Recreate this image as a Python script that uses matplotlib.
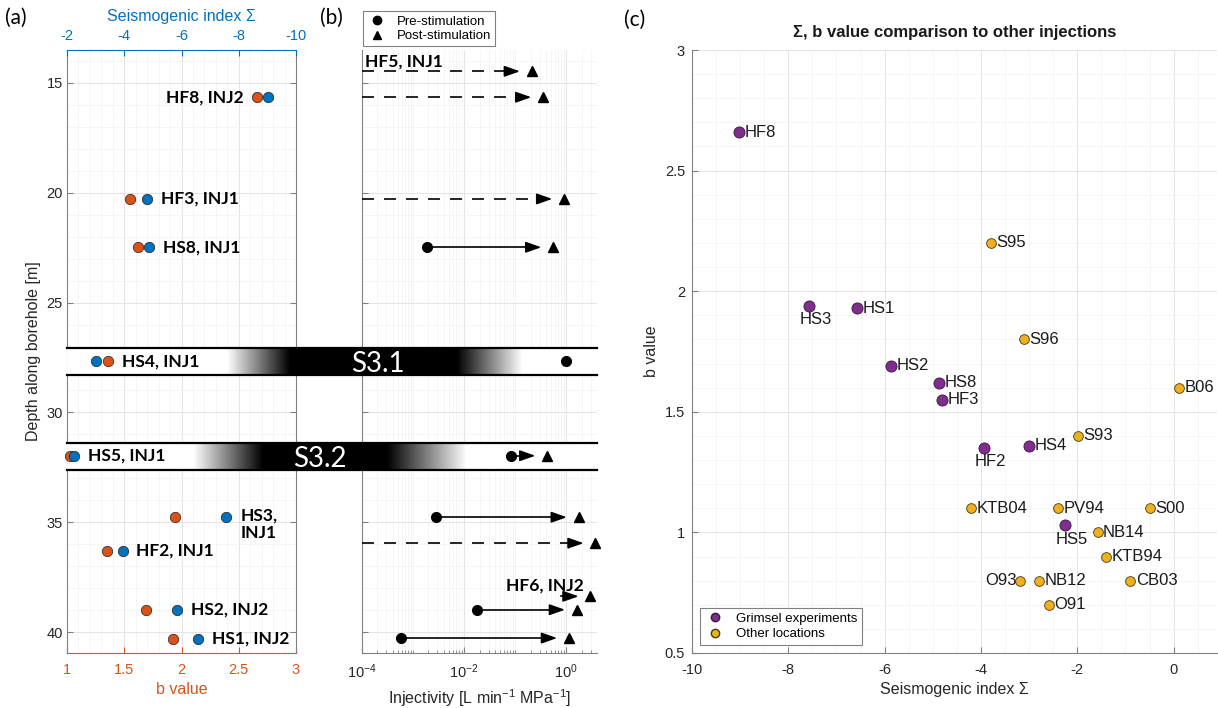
import numpy as np
import matplotlib
matplotlib.use("Agg")
import matplotlib.pyplot as plt
from matplotlib.lines import Line2D
from matplotlib.ticker import (MultipleLocator, FixedLocator, LogLocator,
                               NullFormatter, FuncFormatter)
from matplotlib.transforms import blended_transform_factory

nan = np.nan

# Data

# Grimsel stimulations (panels a and c)
grimsel_names = ["HF8", "HF3", "HS8", "HS4", "HS5", "HS3", "HF2", "HS2", "HS1"]
grimsel_inj = ["INJ2", "INJ1", "INJ1", "INJ1", "INJ1", "INJ1", "INJ1", "INJ2", "INJ2"]
grimsel_depth = [15.65, 20.28, 22.48, 27.68, 31.97, 34.77, 36.29, 38.98, 40.30]
grimsel_b = [2.66, 1.55, 1.62, 1.36, 1.03, 1.94, 1.35, 1.69, 1.93]
grimsel_sigma = [-9.02, -4.81, -4.88, -3.00, -2.26, -7.57, -3.94, -5.86, -6.57]

# other injection sites (panel c)
other_names = ["S95", "S96", "B06", "S93", "KTB04", "PV94", "S00",
               "NB14", "KTB94", "O93", "NB12", "CB03", "O91"]
other_sigma = [-3.80, -3.11, 0.11, -1.99, -4.21, -2.40, -0.50,
               -1.58, -1.40, -3.20, -2.80, -0.90, -2.59]
other_b = [2.20, 1.80, 1.60, 1.40, 1.10, 1.10, 1.10,
           1.00, 0.90, 0.80, 0.80, 0.80, 0.70]

# injectivity before / after stimulation (panel b), L/min/MPa
inj_depth = [14.47, 15.65, 20.28, 22.48, 27.68, 31.97, 34.77, 35.95, 38.37, 38.98, 40.27]
inj_pre = [nan, nan, nan, 0.0019, 1.0, 0.081, 0.0028, nan, nan, 0.0175, 0.00058]
inj_post = [0.21, 0.35, 0.90, 0.55, nan, 0.42, 1.74, 3.7, 2.95, 1.60, 1.12]
inj_from = [1e-4, 1e-4, 1e-4, 0.0019, nan, 0.081, 0.0028, 1e-4, 0.8, 0.0175, 0.00058]
inj_dashed = [True, True, True, False, False, False, False, True, False, False, False]
inj_label = ["HF5, INJ1", "", "", "", "", "", "", "", "HF6, INJ2", "", ""]

# shear zones crossing the borehole
zone_names = ["S3.1", "S3.2"]
zone_top = [27.05, 31.37]
zone_bottom = [28.28, 32.60]

# Style / layout

W, H = 1218, 708
BLUE = "#0072BD"
ORANGE = "#D95319"
PURPLE = "#7E2F8E"
YELLOW = "#EDB120"
TXT = "#262626"
SPINE = "#808080"
GRID = "#e4e4e4"
GRID_MINOR = "#f1f1f1"
BOLD_FONT = ["Lato", "DejaVu Sans"]

# gradient stops of the zone bands, as fraction of band length
BAND_RAMPS = {"S3.1": (0.302, 0.421, 0.736, 0.860),
              "S3.2": (0.238, 0.370, 0.604, 0.755)}
BAND_TEXT_X = {"S3.1": 0.587, "S3.2": 0.477}

A_LABEL_LEFT = {"HF8"}
A_LABEL_WRAP = {"HS3"}
C_LABEL_BELOW = {"HS3", "HF2", "HS5"}
C_LABEL_LEFT = {"O93"}

plt.rcParams["font.family"] = ["Liberation Sans", "DejaVu Sans"]
plt.rcParams["axes.unicode_minus"] = False
plt.rcParams["mathtext.fontset"] = "custom"
plt.rcParams["mathtext.rm"] = "Liberation Sans"
plt.rcParams["mathtext.it"] = "Liberation Sans:italic"
plt.rcParams["mathtext.bf"] = "Liberation Sans:bold"
plt.rcParams["xtick.direction"] = "in"
plt.rcParams["ytick.direction"] = "in"


def px_rect(left, top, right, bottom):
    return [left / W, 1 - bottom / H, (right - left) / W, (bottom - top) / H]


fmt_g = FuncFormatter(lambda v, _: f"{v:g}")


def base_ticks(ax):
    ax.tick_params(which="major", colors=SPINE, labelcolor=TXT, labelsize=10.5,
                   length=4, width=0.8)
    ax.tick_params(which="minor", length=0)


RECT_A = px_rect(67, 50, 296, 653)
RECT_B = px_rect(362, 50, 597, 653)
RECT_C = px_rect(692, 50, 1217, 653)
DEPTH_LIM = (40.95, 13.5)
INJ_LIM = (1e-4, 10 ** 0.6)
ARROW_GAP = 1.7

fig = plt.figure(figsize=(W / 100, H / 100), dpi=100)

# (b) grid + left spine on their own axes, so the shear-zone bands can cover them
ax_bg = fig.add_axes(RECT_B, zorder=0)
ax_bg.set_xscale("log")
ax_bg.set_xlim(*INJ_LIM)
ax_bg.set_ylim(*DEPTH_LIM)
ax_bg.xaxis.set_major_locator(FixedLocator([1e-4, 1e-2, 1]))
ax_bg.xaxis.set_minor_locator(LogLocator(base=10, subs=np.arange(1, 10), numticks=30))
ax_bg.yaxis.set_major_locator(MultipleLocator(5))
ax_bg.yaxis.set_minor_locator(MultipleLocator(1))
ax_bg.grid(which="major", color=GRID, lw=0.7)
ax_bg.grid(which="minor", color=GRID_MINOR, lw=0.5)
ax_bg.tick_params(which="both", length=0, labelbottom=False, labelleft=False)
for side, s in ax_bg.spines.items():
    s.set_visible(side == "left")
    s.set_color(SPINE)

# Panel (a): depth vs b value / seismogenic index

ax_a = fig.add_axes(RECT_A, zorder=1)
ax_a.set_xlim(1, 3)
ax_a.set_ylim(*DEPTH_LIM)
ax_a.set_axisbelow(True)
ax_a.xaxis.set_major_locator(MultipleLocator(0.5))
ax_a.xaxis.set_minor_locator(MultipleLocator(0.1))
ax_a.yaxis.set_major_locator(MultipleLocator(5))
ax_a.yaxis.set_minor_locator(MultipleLocator(1))
ax_a.xaxis.set_major_formatter(fmt_g)
ax_a.grid(which="major", color=GRID, lw=0.7)
ax_a.grid(which="minor", color=GRID_MINOR, lw=0.5)
base_ticks(ax_a)
ax_a.tick_params(axis="y", right=True, pad=3)
ax_a.tick_params(axis="x", which="major", colors=ORANGE, labelcolor=ORANGE, pad=7)
ax_a.spines["bottom"].set_color(ORANGE)
ax_a.spines["top"].set_visible(False)
for side in ("left", "right"):
    ax_a.spines[side].set_color(SPINE)
ax_a.set_xlabel("b value", color=ORANGE, fontsize=11.5)
ax_a.set_ylabel("Depth along borehole [m]", color=TXT, fontsize=11.5)

# shear-zone bands run across panels (a) and (b)
band_tf = blended_transform_factory(fig.transFigure, ax_a.transData)
x0f = RECT_A[0]
x1f = RECT_B[0] + RECT_B[2]
t = np.linspace(0, 1, 800)
for name, top, bot in zip(zone_names, zone_top, zone_bottom):
    a, b, c, d = BAND_RAMPS[name]
    dark = np.clip(np.minimum((t - a) / (b - a), (d - t) / (d - c)), 0, 1)
    gray = 1 - dark
    ax_a.imshow(np.vstack([gray, gray]), cmap="gray", vmin=0, vmax=1, aspect="auto",
                extent=(x0f, x1f, bot, top), transform=band_tf, clip_on=False,
                interpolation="bilinear", zorder=2.6)
    for yy in (top, bot):
        ax_a.plot([x0f, x1f], [yy, yy], color="black", lw=1.6, transform=band_tf,
                  clip_on=False, zorder=2.7)
    ax_a.text(x0f + BAND_TEXT_X[name] * (x1f - x0f), (top + bot) / 2, name,
              transform=band_tf, color="white", fontsize=20, family=BOLD_FONT,
              ha="center", va="center_baseline", clip_on=False, zorder=2.8)
ax_a.set_xlim(1, 3)
ax_a.set_ylim(*DEPTH_LIM)

ax_a.plot(grimsel_b, grimsel_depth, "o", color=ORANGE, mec="#202020", mew=0.5,
          ms=7.5, zorder=4, clip_on=False)

ax_sig = ax_a.twiny()
ax_sig.set_zorder(2)
ax_sig.set_xlim(-2, -10)
ax_sig.xaxis.set_major_locator(FixedLocator([-2, -4, -6, -8, -10]))
ax_sig.xaxis.set_major_formatter(fmt_g)
ax_sig.tick_params(axis="x", colors=BLUE, labelcolor=BLUE, labelsize=10.5,
                   length=4, width=0.8, pad=5)
for side in ("left", "right", "bottom"):
    ax_sig.spines[side].set_visible(False)
ax_sig.spines["top"].set_color(BLUE)
ax_sig.set_xlabel("Seismogenic index \u03a3", color=BLUE, fontsize=11.5, labelpad=6)
ax_sig.plot(grimsel_sigma, grimsel_depth, "o", color=BLUE, mec="#202020", mew=0.5,
            ms=7.5, zorder=4, clip_on=False)

for name, inj, dep, bv, sg in zip(grimsel_names, grimsel_inj, grimsel_depth,
                                  grimsel_b, grimsel_sigma):
    b_sig = 1 + (-2 - sg) / 4  # sigma position on the b-value scale
    text = f"{name},\n{inj}" if name in A_LABEL_WRAP else f"{name}, {inj}"
    if name in A_LABEL_LEFT:
        xy, off, ha = (min(bv, b_sig), dep), (-10, 0), "right"
    else:
        xy, off, ha = (max(bv, b_sig), dep), (10, -5 if name in A_LABEL_WRAP else 0), "left"
    ax_a.annotate(text, xy=xy, xytext=off, textcoords="offset points", ha=ha,
                  va="center", fontsize=12.5, fontweight="bold", family=BOLD_FONT,
                  color="black", linespacing=1.15, zorder=5, annotation_clip=False)

# Panel (b): injectivity

ax_b = fig.add_axes(RECT_B, zorder=3)
ax_b.set_facecolor("none")
ax_b.set_xscale("log")
ax_b.set_xlim(*INJ_LIM)
ax_b.set_ylim(*DEPTH_LIM)
ax_b.xaxis.set_major_locator(FixedLocator([1e-4, 1e-2, 1]))
ax_b.xaxis.set_minor_locator(LogLocator(base=10, subs=np.arange(1, 10), numticks=30))
ax_b.xaxis.set_minor_formatter(NullFormatter())
ax_b.yaxis.set_major_locator(MultipleLocator(5))
base_ticks(ax_b)
ax_b.tick_params(axis="x", which="minor", length=2, width=0.6, colors=SPINE)
ax_b.tick_params(axis="x", pad=7)
ax_b.tick_params(axis="y", labelleft=False)
for side in ("top", "right", "left"):
    ax_b.spines[side].set_visible(False)
ax_b.spines["bottom"].set_color(SPINE)
ax_b.set_xlabel("Injectivity [L min$^{-1}$ MPa$^{-1}$]", color=TXT, fontsize=11.5)

head = "-|>,head_length=0.85,head_width=0.3"
for dep, pre, post, start, dashed, lab in zip(inj_depth, inj_pre, inj_post,
                                              inj_from, inj_dashed, inj_label):
    if not np.isnan(post):
        tip = post / ARROW_GAP
        ls = (0, (7.2, 6)) if dashed else "-"
        ax_b.plot([start, tip / 1.25], [dep, dep], color="black", lw=1.2, ls=ls, zorder=3)
        ax_b.annotate("", xy=(tip, dep), xytext=(tip / 1.3, dep),
                      arrowprops=dict(arrowstyle=head, color="black", lw=1.2,
                                      shrinkA=0, shrinkB=0, mutation_scale=11),
                      zorder=3)
        ax_b.plot(post, dep, "^", color="black", ms=7.5, zorder=4, clip_on=False)
    if not np.isnan(pre):
        ax_b.plot(pre, dep, "o", color="black", ms=7, zorder=4, clip_on=False)
    if lab and dashed:
        ax_b.annotate(lab, xy=(INJ_LIM[0], dep), xytext=(2, 7), textcoords="offset points",
                      ha="left", va="center", fontsize=12.5, fontweight="bold",
                      family=BOLD_FONT, zorder=5)
    elif lab:
        ax_b.annotate(lab, xy=(post, dep), xytext=(-5, 8), textcoords="offset points",
                      ha="right", va="center", fontsize=12.5, fontweight="bold",
                      family=BOLD_FONT, zorder=5)

leg_handles = [
    Line2D([], [], ls="none", marker="o", color="black", ms=6, label="Pre-stimulation"),
    Line2D([], [], ls="none", marker="^", color="black", ms=6, label="Post-stimulation"),
]
leg_b = ax_b.legend(handles=leg_handles, loc="lower left", bbox_to_anchor=(0.003, 1.006),
                    borderaxespad=0, fontsize=9.5, fancybox=False, edgecolor=SPINE,
                    framealpha=1, handlelength=1.6, handletextpad=0.7, borderpad=0.3,
                    labelspacing=0.2)
leg_b.get_frame().set_linewidth(0.8)

# Panel (c): sigma vs b value compared with other sites

ax_c = fig.add_axes(RECT_C, zorder=0)
ax_c.set_xlim(-10, 0.9)
ax_c.set_ylim(0.5, 3)
ax_c.set_axisbelow(True)
ax_c.xaxis.set_major_locator(FixedLocator([-10, -8, -6, -4, -2, 0]))
ax_c.xaxis.set_minor_locator(MultipleLocator(0.5))
ax_c.yaxis.set_major_locator(MultipleLocator(0.5))
ax_c.yaxis.set_minor_locator(MultipleLocator(0.1))
ax_c.xaxis.set_major_formatter(fmt_g)
ax_c.yaxis.set_major_formatter(fmt_g)
ax_c.grid(which="major", color=GRID, lw=0.7)
ax_c.grid(which="minor", color=GRID_MINOR, lw=0.5)
base_ticks(ax_c)
ax_c.tick_params(axis="x", pad=7)
ax_c.tick_params(axis="y", pad=5)
for side in ("top", "right"):
    ax_c.spines[side].set_visible(False)
for side in ("left", "bottom"):
    ax_c.spines[side].set_color(SPINE)

ax_c.plot(other_sigma, other_b, "o", color=YELLOW, mec="#4a3a10", mew=0.6, ms=7,
          zorder=3)
ax_c.plot(grimsel_sigma, grimsel_b, "o", color=PURPLE, mec="#3a1540", mew=0.6, ms=8,
          zorder=3)

for names, xs, ys in ((grimsel_names, grimsel_sigma, grimsel_b),
                      (other_names, other_sigma, other_b)):
    for name, x, y in zip(names, xs, ys):
        if name in C_LABEL_BELOW:
            off, ha = (5, -10), "center"
        elif name in C_LABEL_LEFT:
            off, ha = (-2, 0), "right"
        else:
            off, ha = (4, 0), "left"
        ax_c.annotate(name, xy=(x, y), xytext=off, textcoords="offset points", ha=ha,
                      va="center", fontsize=12, color="#1a1a1a", zorder=4)

ax_c.set_title("\u03a3, b value comparison to other injections", fontsize=12,
               fontweight="bold", color="#1a1a1a", pad=9)
ax_c.set_xlabel("Seismogenic index \u03a3", color=TXT, fontsize=11.5)
ax_c.set_ylabel("b value", color=TXT, fontsize=11.5)

leg_c_handles = [
    Line2D([], [], ls="none", marker="o", color=PURPLE, mec="#3a1540", ms=6,
           label="Grimsel experiments"),
    Line2D([], [], ls="none", marker="o", color=YELLOW, mec="#4a3a10", ms=6,
           label="Other locations"),
]
leg_c = ax_c.legend(handles=leg_c_handles, loc="lower left", fontsize=9.5,
                    fancybox=False, edgecolor=SPINE, framealpha=1, handlelength=1.6,
                    handletextpad=0.8, borderpad=0.35, labelspacing=0.25,
                    borderaxespad=0.6)
leg_c.get_frame().set_linewidth(0.8)

# panel letters
for letter, xp, yp in (("(a)", 5, 18), ("(b)", 320, 18), ("(c)", 624, 20)):
    fig.text(xp / W, 1 - yp / H, letter, fontsize=15, family=BOLD_FONT,
             va="center", ha="left", color="black")

fig.savefig("out.png", dpi=100)
